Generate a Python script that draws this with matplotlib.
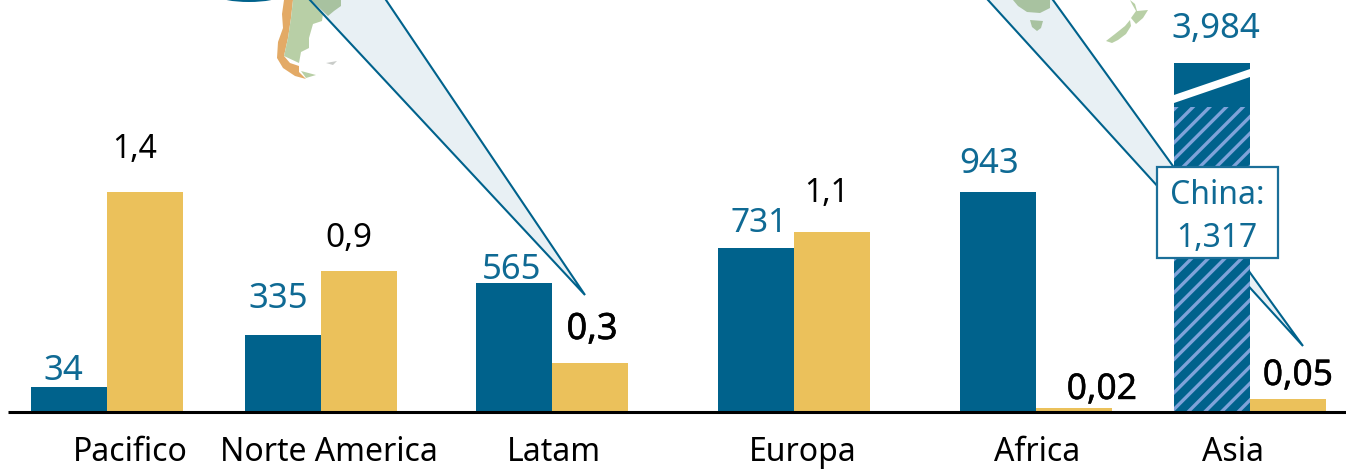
import matplotlib
matplotlib.use("Agg")
import matplotlib.pyplot as plt
import matplotlib.patheffects as pe
from matplotlib.patches import Polygon, Ellipse, Rectangle

categories = ["Pacifico", "Norte America", "Latam", "Europa", "Africa", "Asia"]
blue_labels = ["34", "335", "565", "731", "943", "3,984"]
gold_labels = ["1,4", "0,9", "0,3", "1,1", "0,02", "0,05"]
# bar heights as drawn on the (non-uniform, broken) chart scale
blue_heights = [24, 76, 128, 163, 219, 348]
gold_heights = [219, 140, 48, 179, 3, 12]
china_height = 304

plt.rcParams['font.family'] = ['Noto Sans', 'DejaVu Sans']
plt.rcParams['hatch.linewidth'] = 2.4
plt.rcParams['hatch.color'] = '#7FA3DA'

BLUE = '#00628C'
TEXTBLUE = '#0F6A94'
GOLD = '#EBC15B'
FS = 23

fig = plt.figure(figsize=(13.46, 4.69), dpi=100)
ax = fig.add_axes([0, 0, 1, 1])
BASE = 411
ax.set_xlim(0, 1346)
ax.set_ylim(BASE - 469, BASE)
ax.axis('off')


def P(pts):
    return [(x, BASE - y) for x, y in pts]


def poly(pts, **kw):
    kw.setdefault('linewidth', 0)
    ax.add_patch(Polygon(P(pts), closed=True, **kw))


# group layout
centers = [107, 321, 552, 794, 1036, 1250]
bar_w = 76
cat_x = [130, 329, 554, 803, 1037, 1233]
blue_lx = [63, 278, 512, 759, 989, 1216]
blue_ly = [371, 299, 270, 223, 164, 29]
gold_lx = [135, 349, 592, 827, 1102, 1298]
gold_ly = [149, 238, 330, 193, 390, 376]
blue_fs = [25, 25, 25, 24, 25, 25]
gold_fs = [23, 24, 26, 23, 25.5, 25.5]
gold_stroke = [0, 0, 0.4, 0, 0.3, 0.3]

# map fragments
GREEN = '#B8CFA6'
GREEN2 = '#A8C2A0'
ORANGE = '#E3AA66'
ax.add_patch(Ellipse((249, BASE + 4), 60, 12, facecolor=BLUE, linewidth=0, zorder=2))
poly([(284, 0), (282, 14), (283, 28), (278, 42), (277, 58), (283, 68), (295, 76), (306, 79),
      (299, 72), (299, 66), (290, 63), (284, 56), (288, 38), (291, 18), (293, 0)], facecolor=ORANGE, zorder=1)
poly([(293, 0), (291, 18), (288, 38), (284, 56), (299, 63), (301, 52), (309, 48), (309, 38),
      (313, 24), (322, 21), (325, 0)], facecolor=GREEN, zorder=1)
poly([(311, 0), (328, 16), (334, 11), (341, 6), (341, 0)], facecolor=GREEN2, zorder=4)
poly([(301, 71), (316, 75), (306, 78)], facecolor=GREEN, zorder=1)
poly([(326, 63), (337, 61), (333, 65)], facecolor='#C9CCC9', zorder=1)
poly([(1106, 41), (1115, 34), (1125, 26), (1130, 20), (1131, 26), (1126, 34), (1118, 40), (1112, 43)], facecolor=GREEN, zorder=1)
poly([(1130, 0), (1135, 4), (1137, 11), (1148, 10), (1143, 18), (1136, 24), (1131, 18), (1136, 11), (1132, 4)], facecolor=GREEN, zorder=1)
poly([(1013, 0), (1050, 0), (1050, 8), (1040, 13), (1027, 12), (1018, 6)], facecolor=GREEN2, zorder=4)
poly([(1030, 20), (1043, 21), (1041, 28), (1037, 31), (1032, 27)], facecolor=GREEN2, zorder=4)

# callout wedges
WEDGE = '#E8F0F4'
for left, right, tip in [((310, 0), (386, 0), (585, 295)), ((988, 0), (1053, 0), (1303, 346))]:
    poly([left, right, tip], facecolor=WEDGE, zorder=3)
    pts = P([left, tip, right])
    ax.plot([p[0] for p in pts], [p[1] for p in pts], color=BLUE, lw=1.5, zorder=5,
            solid_joinstyle='miter')

# bars
for i, c in enumerate(categories):
    x = centers[i]
    ax.bar(x - bar_w / 2, blue_heights[i], bar_w, color=BLUE, linewidth=0, zorder=6)
    ax.bar(x + bar_w / 2, gold_heights[i], bar_w, color=GOLD, linewidth=0, zorder=6)
    ax.text(blue_lx[i], BASE - blue_ly[i], blue_labels[i], color=TEXTBLUE, fontsize=blue_fs[i],
            ha='center', va='center', zorder=9)
    t = ax.text(gold_lx[i], BASE - gold_ly[i], gold_labels[i], color='black', fontsize=gold_fs[i],
                ha='center', va='center', zorder=9)
    if gold_stroke[i]:
        t.set_path_effects([pe.withStroke(linewidth=gold_stroke[i], foreground='black')])
    ax.text(cat_x[i], BASE - 452, c, color='black', fontsize=FS, ha='center', va='center', zorder=9)

# China hatched part of Asia bar
ax.bar(centers[5] - bar_w / 2, china_height, bar_w, color=BLUE, hatch='//',
       edgecolor='#7FA3DA', linewidth=0, zorder=7)
# axis-break slash
poly([(1174, 95), (1250, 69), (1250, 77), (1174, 103)], facecolor='white', zorder=8)

# baseline
ax.plot([8, 1346], [-0.5, -0.5], color='black', lw=2.2, zorder=8, solid_capstyle='butt')

# China box
ax.add_patch(Rectangle((1157, BASE - 258), 121, 91, facecolor='white', edgecolor='#1B6F99',
                       linewidth=1.6, zorder=10))
ax.text(1217, BASE - 195, "China:", color=TEXTBLUE, fontsize=FS, ha='center', va='center', zorder=11)
ax.text(1217, BASE - 238, "1,317", color=TEXTBLUE, fontsize=FS, ha='center', va='center', zorder=11)

fig.savefig("out.png", dpi=100)
